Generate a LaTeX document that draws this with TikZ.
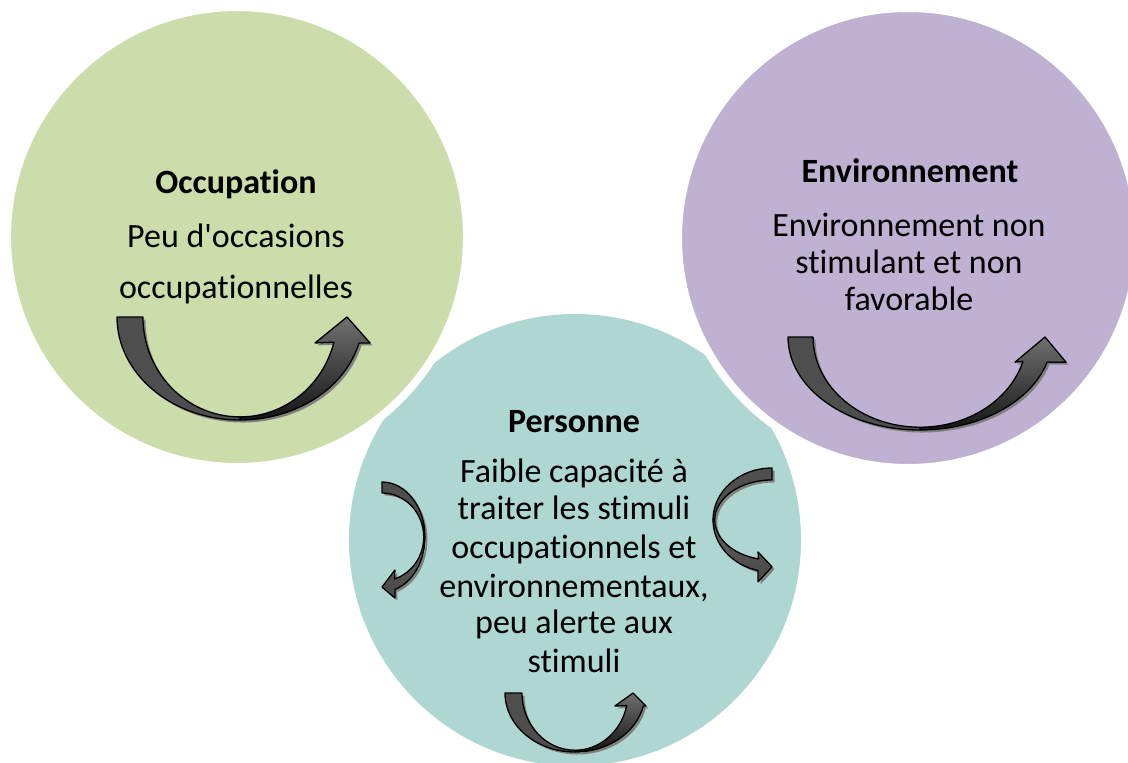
\documentclass[tikz,border=0pt]{standalone}
\usepackage{fontspec}
\setmainfont{Carlito}[Ligatures={TeXOff,NoCommon}]
\definecolor{occgreen}{RGB}{205,220,171}
\definecolor{envpurple}{RGB}{191,177,210}
\definecolor{perteal}{RGB}{175,215,209}
\definecolor{frontgray}{RGB}{78,78,78}
\definecolor{shadowgray}{RGB}{128,128,128}
\definecolor{headgray}{RGB}{112,112,112}
\tikzset{
  blob/.style={circle, inner sep=0pt, minimum size=#1},
  ttl/.style={anchor=base, text=black, font=\fontsize{34}{39}\selectfont\bfseries},
  txt/.style={anchor=base, text=black, font=\fontsize{34}{39}\selectfont},
  arrowline/.style={draw=black, line width=1.3pt, line join=round},
  ushade/.style={top color=headgray, middle color=black, bottom color=black!92},
  sshade/.style={top color=black!62, bottom color=black!72},
}
% #1 frame, #2 inner radius, #3 neck angle, #4 head left, #5 tip, #6 head right, #7 right-part style
\newcommand\curvedarrow[7]{%
  \begin{scope}[shift={(2.5pt,-2.5pt)}]
    \begin{scope}[#1]
      \fill[shadowgray] (-1,0) -- (-#2,0)
        arc[start angle=180,end angle=90,x radius=#2,y radius=0.97]
        arc[start angle=90,end angle=#3,x radius=#2,y radius=0.97]
        -- (#4,{sin(#3)}) -- (#5,0) -- (#6,{sin(#3)}) -- ({cos(#3)},{sin(#3)})
        arc[start angle=#3,end angle=180,x radius=1,y radius=1] -- cycle;
    \end{scope}
  \end{scope}
  \begin{scope}[#1]
    \path[#7, arrowline] (0,0.97)
        arc[start angle=90,end angle=#3,x radius=#2,y radius=0.97]
        -- (#4,{sin(#3)}) -- (#5,0) -- (#6,{sin(#3)}) -- ({cos(#3)},{sin(#3)})
        arc[start angle=#3,end angle=90,x radius=1,y radius=1] -- cycle;
    \path[fill=frontgray, arrowline] (-1,0) -- (-#2,0)
        arc[start angle=180,end angle=90,x radius=#2,y radius=0.97]
        -- (0,1) arc[start angle=90,end angle=180,x radius=1,y radius=1] -- cycle;
  \end{scope}
}
\begin{document}
\begin{tikzpicture}[x=1pt,y=-1pt]
\useasboundingbox (0,0) rectangle (1128,763);
\clip (0,0) rectangle (1128,763);
\fill[white] (0,0) rectangle (1128,763);

% circles
\node[blob=452pt, fill=perteal] (perscircle) at (575,540) {};
\node[blob=460pt, fill=occgreen, draw=white, line width=8pt] (occcircle) at (237,237) {};
\node[blob=460pt, fill=envpurple, draw=white, line width=8pt] (envcircle) at (908,238) {};

% Occupation
\node[ttl] (occtitle) at (236,193) {Occupation};
\node[txt] (occl1) at (236,247) {Peu d'occasions};
\node[txt] (occl2) at (236,298) {occupationnelles};

% Environnement
\node[ttl] (envtitle) at (910,182) {Environnement};
\node[txt] (envl1) at (909,236) {Environnement non};
\node[txt] (envl2) at (909,273) {stimulant et non};
\node[txt] (envl3) at (909,310) {favorable};

% Personne
\node[ttl] (pertitle) at (574,432) {Personne};
\node[txt] (perl1) at (574,482) {Faible capacité à};
\node[txt] (perl2) at (574,519) {traiter les stimuli};
\node[txt] (perl3) at (574,558) {occupationnels et};
\node[txt] (perl4) at (574,597) {environnementaux,};
\node[txt] (perl5) at (574,633) {peu alerte aux};
\node[txt] (perl6) at (574,672) {stimuli};

% curved arrows
\curvedarrow{shift={(240pt,-317pt)},x={(123pt,0pt)},y={(0pt,-103pt)}}{0.789}{14.6}{0.61}{0.87}{1.057}{ushade}
\curvedarrow{shift={(920pt,-337pt)},x={(132pt,0pt)},y={(0pt,-93pt)}}{0.81}{15.7}{0.72}{0.947}{1.106}{ushade}
\curvedarrow{shift={(575pt,-693pt)},x={(70pt,0pt)},y={(0pt,-59pt)}}{0.757}{12.7}{0.571}{0.829}{1.014}{ushade}
\curvedarrow{shift={(382pt,-537pt)},x={(0pt,-55pt)},y={(43pt,0pt)}}{0.8}{17.5}{0.6}{0.91}{1.11}{sshade}
\curvedarrow{shift={(772pt,-520pt)},x={(0pt,-52pt)},y={(-59pt,0pt)}}{0.77}{13.7}{0.615}{0.9}{1.19}{sshade}
\end{tikzpicture}
\end{document}
